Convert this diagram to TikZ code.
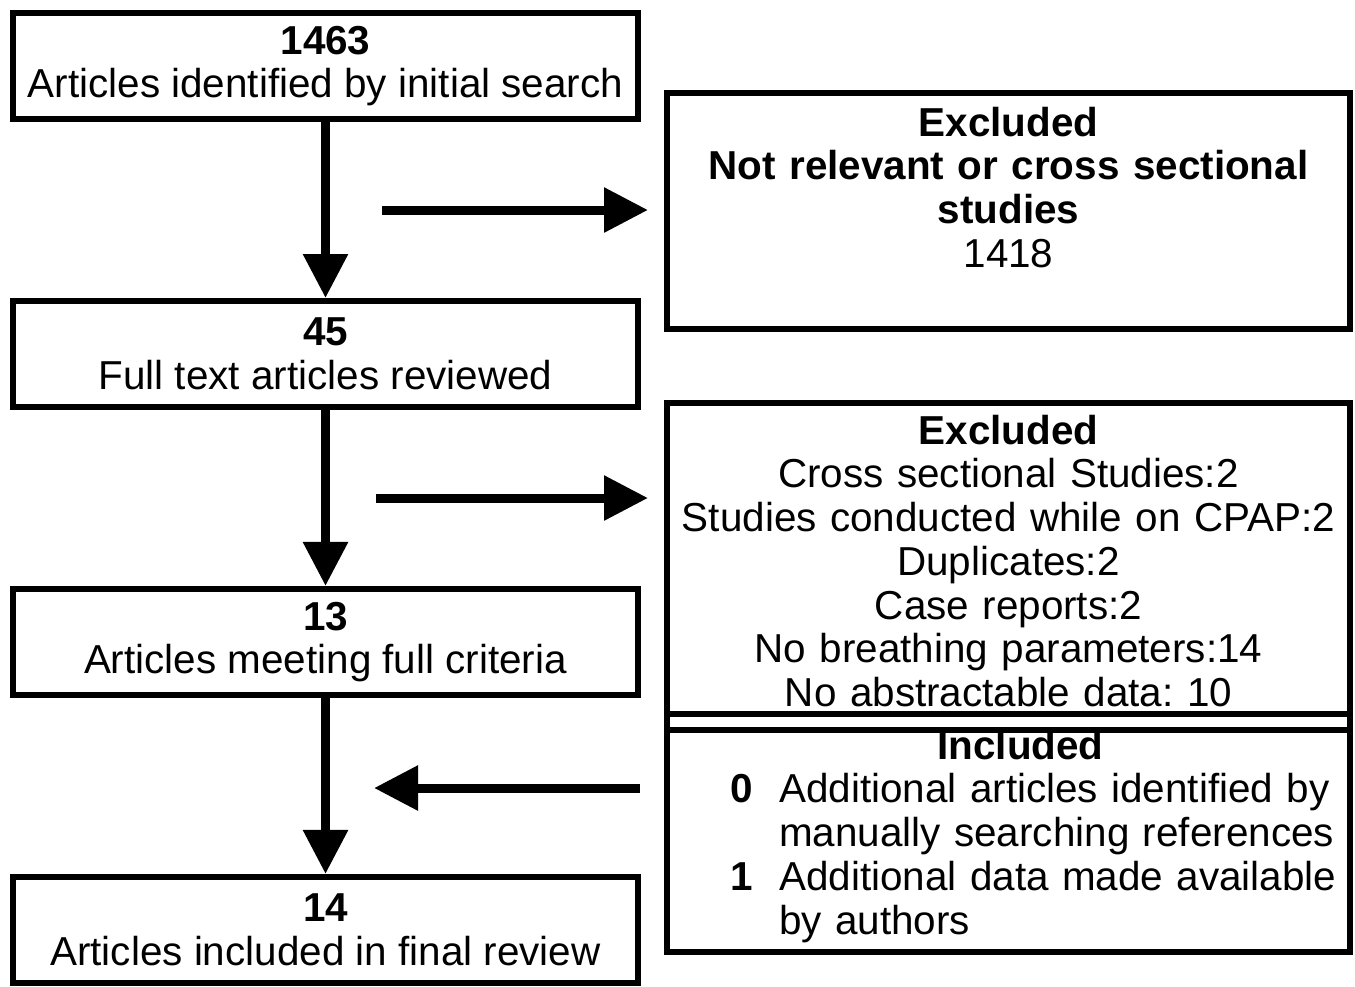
\documentclass[tikz,border=0pt]{standalone}
\usepackage{fontspec}
\setmainfont{Liberation Sans}
\frenchspacing
\usetikzlibrary{positioning, arrows.meta}

\begin{document}
\begin{tikzpicture}[
    node distance=1.76cm,
    font=\fontsize{11.5pt}{12.45pt}\selectfont,
    box/.style={draw, line width=1.7pt, rectangle, align=center, minimum width=6.25cm, minimum height=1.06cm, inner sep=0pt},
    side/.style={draw, line width=1.7pt, rectangle, align=center, text width=6.73cm, inner xsep=0.05cm, inner ysep=0.1cm, outer sep=0pt},
    every edge/.style={draw, line width=2.56pt, -{Triangle[length=0.44cm, width=0.43cm]}}
]
\useasboundingbox (0,0) rectangle (13.55,-9.86);

\node[box] (search) at (3.255,-0.66) {\textbf{1463}\\ Articles identified by initial search};
\node[box] (fulltext) [below=of search] {\textbf{45}\\ Full text articles reviewed};
\node[box] (criteria) [below=of fulltext] {\textbf{13}\\ Articles meeting full criteria};
\node[box] (final) [below=of criteria] {\textbf{14}\\ Articles included in final review};

\node[side, text height=0.33cm, text depth=1.83cm] (notrelevant) at (10.085,-2.11)
  {\textbf{Excluded}\\ \textbf{Not relevant or cross sectional}\\ \textbf{studies}\\ 1418};
\node[side, text height=0.31cm, text depth=2.60cm] (excluded) at (10.085,-5.585)
  {\textbf{Excluded}\\ Cross sectional Studies:2\\ Studies conducted while on CPAP:2\\ Duplicates:2\\ Case reports:2\\ No breathing parameters:14\\ No abstractable data: 10};
\node[side, text height=0.19cm, text depth=1.83cm] (included) at (10.085,-8.41)
  {\hspace*{0.24cm}\textbf{Included}\\
   \begin{tabular}[t]{@{\hspace{0.5cm}}r@{\hspace{0.26cm}}l@{}}
   \textbf{0} & Additional articles identified by\\
              & manually searching references\\
   \textbf{1} & Additional data made available\\
              & by authors
   \end{tabular}};
\draw[line width=1.7pt] (excluded.south west) -- (included.north west)
  (excluded.south east) -- (included.north east);

\coordinate (out1) at (3.82,-2.10);
\coordinate (out2) at (3.76,-4.98);
\coordinate (back) at (3.74,-7.88);

\path
 (search) edge (fulltext)
 (fulltext) edge (criteria)
 (criteria) edge (final)
 (out1) edge [shorten >=0.19cm] (notrelevant.west |- out1)
 (out2) edge [shorten >=0.19cm] (excluded.west |- out2)
 (included.west |- back) edge [shorten <=0.27cm] (back);
\end{tikzpicture}
\end{document}
